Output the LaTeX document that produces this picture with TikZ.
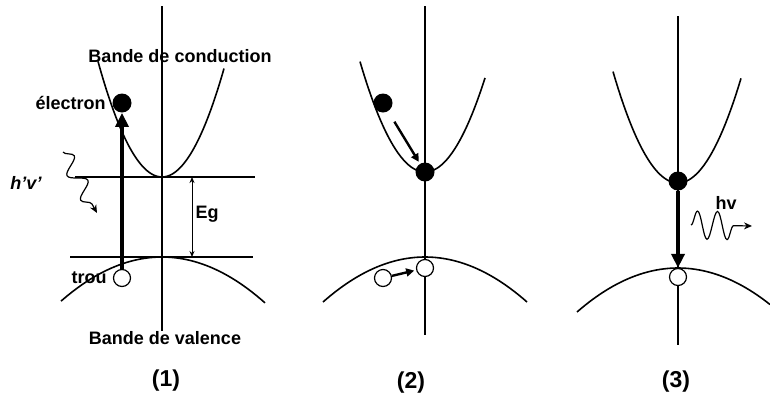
\documentclass[tikz,border=0pt]{standalone}
\usepackage{fontspec}
\setmainfont{Liberation Sans}
\usetikzlibrary{arrows.meta,positioning,decorations.pathmorphing}

\begin{document}
\begin{tikzpicture}[
  x=0.5pt, y=-0.5pt,
  >={Stealth[length=2mm]},
  band/.style={line width=0.8pt},
  axis/.style={line width=0.7pt},
  electron/.style={circle, fill=black, inner sep=0pt, minimum size=9.5pt},
  hole/.style={circle, draw, fill=white, line width=0.6pt, inner sep=0pt, minimum size=8.5pt},
  lbl/.style={font=\fontsize{9}{11}\selectfont\bfseries, inner sep=1pt},
  num/.style={font=\fontsize{11.5}{13}\selectfont\bfseries},
  jump/.style={line width=1.8pt, -{Triangle[length=7pt,width=6.5pt]}},
  slide/.style={line width=1.2pt, -{Triangle[length=4pt,width=4pt]}, shorten >=1pt},
  photon/.style={line width=0.6pt, decorate, -{Stealth[length=4pt,width=3.5pt]}}
]
\useasboundingbox (0,0) rectangle (770,402);

% (1) absorption
\draw[axis] (162,6) -- (162,331);
\draw[band] plot[domain=-64:62, samples=50] ({162+\x},{177-112*(\x/63)^2});
\draw[band] plot[domain=-101:103, samples=50] ({162+\x},{257+45*(\x/102)^2});
\draw[band] (75,177) -- (255,177);
\draw[band] (70,257) -- (253,257);
\coordinate (gtop) at (192,177);
\coordinate (gbot) at (192,257);
\draw[line width=0.5pt, {Stealth[length=3pt,width=2.5pt]}-{Stealth[length=3pt,width=2.5pt]}] (gtop) -- (gbot);
\node[lbl] (eg) at (207,214) {Eg};
\node[electron] (e1) at (122,103) {};
\node[hole] (h1) at (122,278) {};
\node[lbl, left=2pt of e1] (le1) {électron};
\node[lbl, left=2pt of h1] (lh1) {trou};
\draw[jump] (h1) -- (e1);
\node[lbl] (hv1) at (26,183) {\itshape h’v’};
\coordinate (w1s) at (63,152);
\coordinate (w1e) at (97,213);
\draw[photon, decoration={snake, amplitude=4pt, segment length=14pt, post length=4pt}] (w1s) -- (w1e);
\node[lbl] (cb) at (180,56) {Bande de conduction};
\node[lbl] (vb) at (165,338) {Bande de valence};
\node[num] (n1) at (166,381) {(1)};

% (2) thermalisation
\draw[axis] (425,6) -- (425,335);
\draw[band] plot[domain=-65:60, samples=50] ({425+\x},{172-107*(\x/64)^2});
\draw[band] plot[domain=-102:102, samples=50] ({425+\x},{257+45*(\x/102)^2});
\node[electron] (e2a) at (383,103) {};
\node[electron] (e2b) at (425,172) {};
\node[hole] (h2a) at (383,278) {};
\node[hole] (h2b) at (425,268) {};
\draw[slide, shorten <=6pt] (e2a) -- (e2b);
\draw[slide] (h2a) -- (h2b);
\node[num] (n2) at (411,383) {(2)};

% (3) recombinaison
\draw[axis] (678,16) -- (678,345);
\draw[band] plot[domain=-65:63, samples=50] ({678+\x},{183-108*(\x/64)^2});
\draw[band] plot[domain=-101:92, samples=50] ({678+\x},{268+44*(\x/101)^2});
\node[electron] (e3) at (678,181) {};
\node[hole] (h3) at (678,277) {};
\draw[jump] (e3) -- (h3);
\coordinate (w3s) at (691,225);
\coordinate (w3e) at (752,226);
\draw[photon, decoration={snake, amplitude=7pt, segment length=10pt, post length=5pt}] (w3s) -- (w3e);
\node[lbl] (hv3) at (726,203) {hv};
\node[num] (n3) at (676,382) {(3)};
\end{tikzpicture}
\end{document}
